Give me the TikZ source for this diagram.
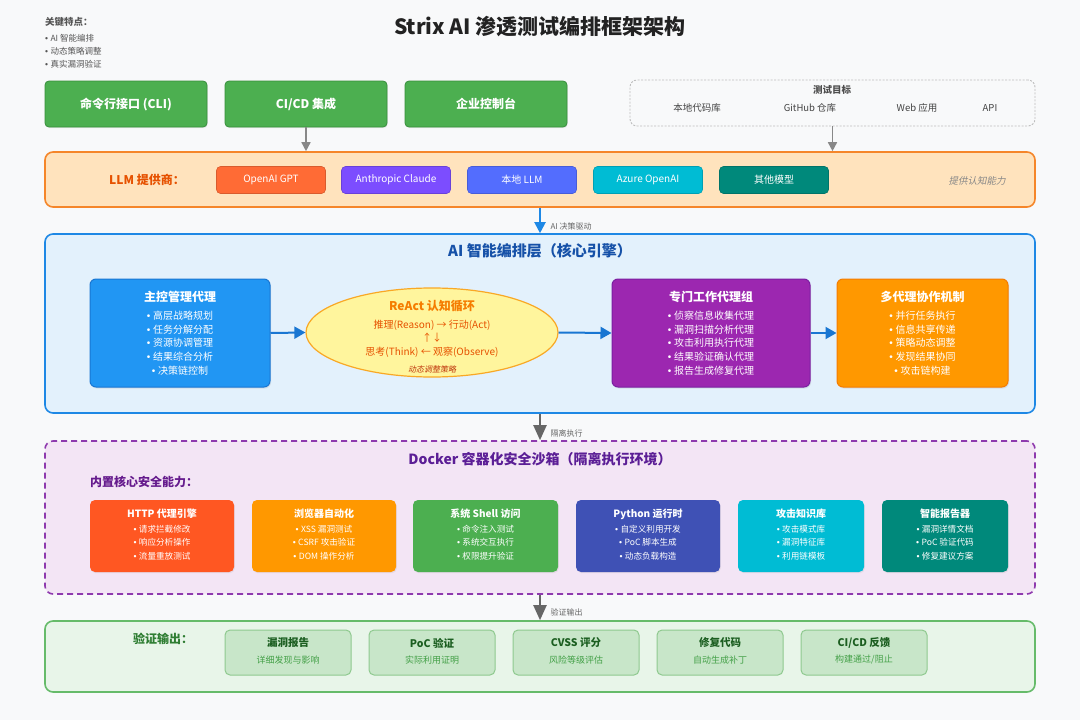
\documentclass[tikz,border=0pt]{standalone}
\usepackage{fontspec}
\setmainfont{Noto Sans CJK SC}[AutoFakeSlant=0.2]
\newfontfamily\bulfont{Liberation Sans}
\newcommand{\bu}{{\bulfont •\ }}
\usetikzlibrary{arrows.meta,shapes.geometric,shadows}
\definecolor{bgc}{HTML}{F8F9FA}
\definecolor{titlec}{HTML}{222222}
\definecolor{keyc}{HTML}{555555}
\definecolor{gfill}{HTML}{4CAF50}
\definecolor{gdraw}{HTML}{388E3C}
\definecolor{tgtdraw}{HTML}{BDBDBD}
\definecolor{llmfill}{HTML}{FFE3BD}
\definecolor{llmdraw}{HTML}{F5862A}
\definecolor{llmtext}{HTML}{E65100}
\definecolor{popenai}{HTML}{FF6B35}
\definecolor{pclaude}{HTML}{7C4DFF}
\definecolor{plocal}{HTML}{536DFE}
\definecolor{pazure}{HTML}{00BCD4}
\definecolor{pother}{HTML}{00897B}
\definecolor{aifill}{HTML}{E3F1FC}
\definecolor{aidraw}{HTML}{1E88E5}
\definecolor{aitext}{HTML}{1651A8}
\definecolor{ctlfill}{HTML}{2196F3}
\definecolor{ctldraw}{HTML}{1976D2}
\definecolor{elfill}{HTML}{FFF59D}
\definecolor{eldraw}{HTML}{F9A825}
\definecolor{eltitle}{HTML}{F57C00}
\definecolor{eltext}{HTML}{E65100}
\definecolor{elital}{HTML}{BF360C}
\definecolor{spfill}{HTML}{9C27B0}
\definecolor{spdraw}{HTML}{7B1FA2}
\definecolor{mufill}{HTML}{FF9800}
\definecolor{mudraw}{HTML}{F57C00}
\definecolor{dkfill}{HTML}{F3E5F5}
\definecolor{dkdraw}{HTML}{8E3AAE}
\definecolor{dktext}{HTML}{5B1E96}
\definecolor{cap1}{HTML}{FF5722}
\definecolor{cap2}{HTML}{FF9800}
\definecolor{cap3}{HTML}{4CAF50}
\definecolor{cap4}{HTML}{3F51B5}
\definecolor{cap5}{HTML}{00BCD4}
\definecolor{cap6}{HTML}{00897B}
\definecolor{outfill}{HTML}{E8F5E9}
\definecolor{outdraw}{HTML}{66BB6A}
\definecolor{obfill}{HTML}{C8E6C9}
\definecolor{obdraw}{HTML}{8FC98F}
\definecolor{obtitle}{HTML}{1B5E20}
\definecolor{obsub}{HTML}{43A047}
\definecolor{outlabel}{HTML}{2E7D32}
\definecolor{arrgray}{HTML}{888888}
\definecolor{arrdark}{HTML}{666666}
\definecolor{lblgray}{HTML}{666666}
\begin{document}
\begin{tikzpicture}[x=1pt,y=-1pt,
  panel/.style={draw, rounded corners=8pt, line width=1.6pt, inner sep=0pt},
  gbtn/.style={draw=gdraw, fill=gfill, rounded corners=4pt, line width=0.8pt, minimum width=162pt, minimum height=46pt, text=white, font=\fontsize{12}{14}\selectfont\bfseries, drop shadow={opacity=0.12, shadow xshift=0.8pt, shadow yshift=-1.2pt}},
  pbtn/.style={rounded corners=4pt, minimum width=109pt, minimum height=27pt, text=white, font=\fontsize{10}{12}\selectfont, line width=0.6pt},
  agent/.style={rounded corners=6pt, line width=1pt, minimum height=108pt, inner sep=0pt, drop shadow={opacity=0.15, shadow xshift=1pt, shadow yshift=-1.5pt}},
  atitle/.style={text=white, font=\fontsize{12}{14}\selectfont\bfseries},
  aitems/.style={text=white, align=center, font=\fontsize{10}{13.6}\selectfont},
  capbox/.style={rounded corners=5pt, minimum height=72pt, inner sep=0pt, drop shadow={opacity=0.12, shadow xshift=0.8pt, shadow yshift=-1.2pt}},
  ctitle/.style={text=white, font=\fontsize{10}{12}\selectfont\bfseries},
  citems/.style={text=white, align=center, font=\fontsize{8.6}{13.5}\selectfont},
  obox/.style={draw=obdraw, fill=obfill, rounded corners=5pt, line width=1pt, minimum width=126pt, minimum height=45pt},
  otitle/.style={text=obtitle, font=\fontsize{10.5}{12}\selectfont\bfseries},
  osub/.style={text=obsub, font=\fontsize{9}{11}\selectfont},
  blarr/.style={draw=aidraw, line width=2pt, -{Triangle[length=11pt,width=11pt]}},
  ctlarr/.style={draw=ctldraw, line width=2pt, -{Triangle[length=11pt,width=12pt]}},
  grarr/.style={draw=arrgray, line width=1.5pt, -{Triangle[length=9pt,width=9pt]}},
  dkarr/.style={draw=arrdark, line width=2pt, -{Triangle[length=15pt,width=13pt]}},
  arrlbl/.style={text=lblgray, anchor=west, font=\fontsize{8}{9}\selectfont}
]
\fill[bgc] (0,0) rectangle (1080,720);
\useasboundingbox (0,0) rectangle (1080,720);

% title and key features
\node[text=titlec, font=\fontsize{21}{24}\selectfont\bfseries] (title) at (540,27) {Strix AI 渗透测试编排框架架构};
\node[anchor=west, text=keyc, font=\fontsize{9.5}{11}\selectfont\bfseries, inner sep=0] (keyt) at (45,22) {关键特点：};
\node[anchor=north west, text=keyc, align=left, font=\fontsize{8.5}{13}\selectfont, inner sep=0] (keyi) at (45,34) {\bu AI 智能编排\\\bu 动态策略调整\\\bu 真实漏洞验证};

% top entry buttons
\node[gbtn] (cli) at (126,104) {命令行接口 (CLI)};
\node[gbtn] (cicd) at (306,104) {CI/CD 集成};
\node[gbtn] (ent) at (486,104) {企业控制台};

% test targets
\node[draw=tgtdraw, dash pattern=on 2pt off 1.5pt, line width=0.9pt, rounded corners=7pt, fill=bgc, minimum width=405pt, minimum height=46pt] (tgt) at (832.5,103) {};
\node[text=titlec!80, font=\fontsize{9.5}{11}\selectfont\bfseries] (tgtt) at (832,90) {测试目标};
\node[text=titlec!85, font=\fontsize{9.5}{11}\selectfont] (t1) at (697,108) {本地代码库};
\node[text=titlec!85, font=\fontsize{9.5}{11}\selectfont] (t2) at (810,108) {GitHub 仓库};
\node[text=titlec!85, font=\fontsize{9.5}{11}\selectfont] (t3) at (917,108) {Web 应用};
\node[text=titlec!85, font=\fontsize{9.5}{11}\selectfont] (t4) at (990,108) {API};

% LLM panel
\node[panel, draw=llmdraw, fill=llmfill, minimum width=990pt, minimum height=55pt] (llm) at (540,179.5) {};
\node[text=llmtext, font=\fontsize{12}{14}\selectfont\bfseries] (llmlbl) at (147,180) {LLM 提供商：};
\node[pbtn, fill=popenai, draw=popenai!85!black] (p1) at (271,180) {OpenAI GPT};
\node[pbtn, fill=pclaude, draw=pclaude!85!black] (p2) at (396,180) {Anthropic Claude};
\node[pbtn, fill=plocal, draw=plocal!85!black] (p3) at (522,180) {本地 LLM};
\node[pbtn, fill=pazure, draw=pazure!85!black] (p4) at (648,180) {Azure OpenAI};
\node[pbtn, fill=pother, draw=pother!85!black] (p5) at (774,180) {其他模型};
\node[text=arrgray, font=\fontsize{9.5}{11}\selectfont\itshape] (cog) at (977,181) {提供认知能力};

\draw[grarr] (cicd.south) -- (cicd.south |- llm.north);
\draw[grarr] (tgt.south) -- (tgt.south |- llm.north);

% AI orchestration layer
\node[panel, draw=aidraw, fill=aifill, minimum width=990pt, minimum height=179pt] (ai) at (540,323.5) {};
\node[text=aitext, font=\fontsize{15}{17}\selectfont\bfseries] (aititle) at (540,251) {AI 智能编排层（核心引擎）};
\draw[blarr] (llm.south) -- (llm.south |- ai.north);
\node[arrlbl] (lbl1) at (547,226) {AI 决策驱动};

\node[agent, fill=ctlfill, draw=ctldraw, minimum width=180pt] (ctl) at (180,333) {};
\node[atitle] (ctlt) at (180,297) {主控管理代理};
\node[aitems] (ctli) at (180,343) {\bu 高层战略规划\\\bu 任务分解分配\\\bu 资源协调管理\\\bu 结果综合分析\\\bu 决策链控制};

\node[ellipse, draw=eldraw, fill=elfill, line width=1.2pt, minimum width=252pt, minimum height=89pt, inner sep=0pt] (react) at (432,332.5) {};
\node[text=eltitle, font=\fontsize{12}{14}\selectfont\bfseries] (reactt) at (432,306) {ReAct 认知循环};
\node[text=eltext, align=center, font=\fontsize{10}{13.6}\selectfont] (reacti) at (432,338.5) {推理(Reason) → 行动(Act)\\↑↓\\思考(Think) ← 观察(Observe)};
\node[text=elital, font=\fontsize{8}{9}\selectfont\itshape] (reacts) at (432,369) {动态调整策略};

\node[agent, fill=spfill, draw=spdraw, minimum width=198pt] (sp) at (711,333) {};
\node[atitle] (spt) at (711,297) {专门工作代理组};
\node[aitems] (spi) at (711,343) {\bu 侦察信息收集代理\\\bu 漏洞扫描分析代理\\\bu 攻击利用执行代理\\\bu 结果验证确认代理\\\bu 报告生成修复代理};

\node[agent, fill=mufill, draw=mudraw, minimum width=171pt] (mu) at (922.5,333) {};
\node[atitle] (mut) at (922.5,297) {多代理协作机制};
\node[aitems] (mui) at (922.5,343) {\bu 并行任务执行\\\bu 信息共享传递\\\bu 策略动态调整\\\bu 发现结果协同\\\bu 攻击链构建};

\draw[ctlarr] (ctl.east) -- (react.west);
\draw[ctlarr] (react.east) -- (sp.west);
\draw[ctlarr] (sp.east) -- (mu.west);

% Docker sandbox
\node[panel, draw=dkdraw, fill=dkfill, dash pattern=on 6pt off 4pt, minimum width=990pt, minimum height=153pt] (dk) at (540,517.5) {};
\node[text=dktext, font=\fontsize{14}{16}\selectfont\bfseries] (dkt) at (540,459) {Docker 容器化安全沙箱（隔离执行环境）};
\node[anchor=west, text=dktext!90!purple, font=\fontsize{12}{14}\selectfont\bfseries, inner sep=0] (dkl) at (90,482) {内置核心安全能力：};
\draw[dkarr] (ai.south) -- (ai.south |- dk.north);
\node[arrlbl] (lbl2) at (547,433) {隔离执行};

\node[capbox, fill=cap1, minimum width=144pt] (c1) at (162,536) {};
\node[ctitle] at (162,514) {HTTP 代理引擎};
\node[citems] at (162,542.5) {\bu 请求拦截修改\\\bu 响应分析操作\\\bu 流量重放测试};
\node[capbox, fill=cap2, minimum width=144pt] (c2) at (324,536) {};
\node[ctitle] at (324,514) {浏览器自动化};
\node[citems] at (324,542.5) {\bu XSS 漏洞测试\\\bu CSRF 攻击验证\\\bu DOM 操作分析};
\node[capbox, fill=cap3, minimum width=145pt] (c3) at (485.5,536) {};
\node[ctitle] at (485.5,514) {系统 Shell 访问};
\node[citems] at (485.5,542.5) {\bu 命令注入测试\\\bu 系统交互执行\\\bu 权限提升验证};
\node[capbox, fill=cap4, minimum width=144pt] (c4) at (648,536) {};
\node[ctitle] at (648,514) {Python 运行时};
\node[citems] at (648,542.5) {\bu 自定义利用开发\\\bu PoC 脚本生成\\\bu 动态负载构造};
\node[capbox, fill=cap5, minimum width=126pt] (c5) at (801,536) {};
\node[ctitle] at (801,514) {攻击知识库};
\node[citems] at (801,542.5) {\bu 攻击模式库\\\bu 漏洞特征库\\\bu 利用链模板};
\node[capbox, fill=cap6, minimum width=126pt] (c6) at (945,536) {};
\node[ctitle] at (945,514) {智能报告器};
\node[citems] at (945,542.5) {\bu 漏洞详情文档\\\bu PoC 验证代码\\\bu 修复建议方案};

% output
\node[panel, draw=outdraw, fill=outfill, minimum width=990pt, minimum height=71pt] (out) at (540,656.5) {};
\node[text=outlabel, font=\fontsize{12}{14}\selectfont\bfseries] (outl) at (163,639) {验证输出：};
\draw[dkarr] (dk.south) -- (dk.south |- out.north);
\node[arrlbl] (lbl3) at (547,612) {验证输出};

\node[obox] (o1) at (288,652.5) {};
\node[otitle] at (288,643) {漏洞报告};
\node[osub] at (288,660) {详细发现与影响};
\node[obox] (o2) at (432,652.5) {};
\node[otitle] at (432,643) {PoC 验证};
\node[osub] at (432,660) {实际利用证明};
\node[obox] (o3) at (576,652.5) {};
\node[otitle] at (576,643) {CVSS 评分};
\node[osub] at (576,660) {风险等级评估};
\node[obox] (o4) at (720,652.5) {};
\node[otitle] at (720,643) {修复代码};
\node[osub] at (720,660) {自动生成补丁};
\node[obox] (o5) at (864,652.5) {};
\node[otitle] at (864,643) {CI/CD 反馈};
\node[osub] at (864,660) {构建通过/阻止};
\end{tikzpicture}
\end{document}
